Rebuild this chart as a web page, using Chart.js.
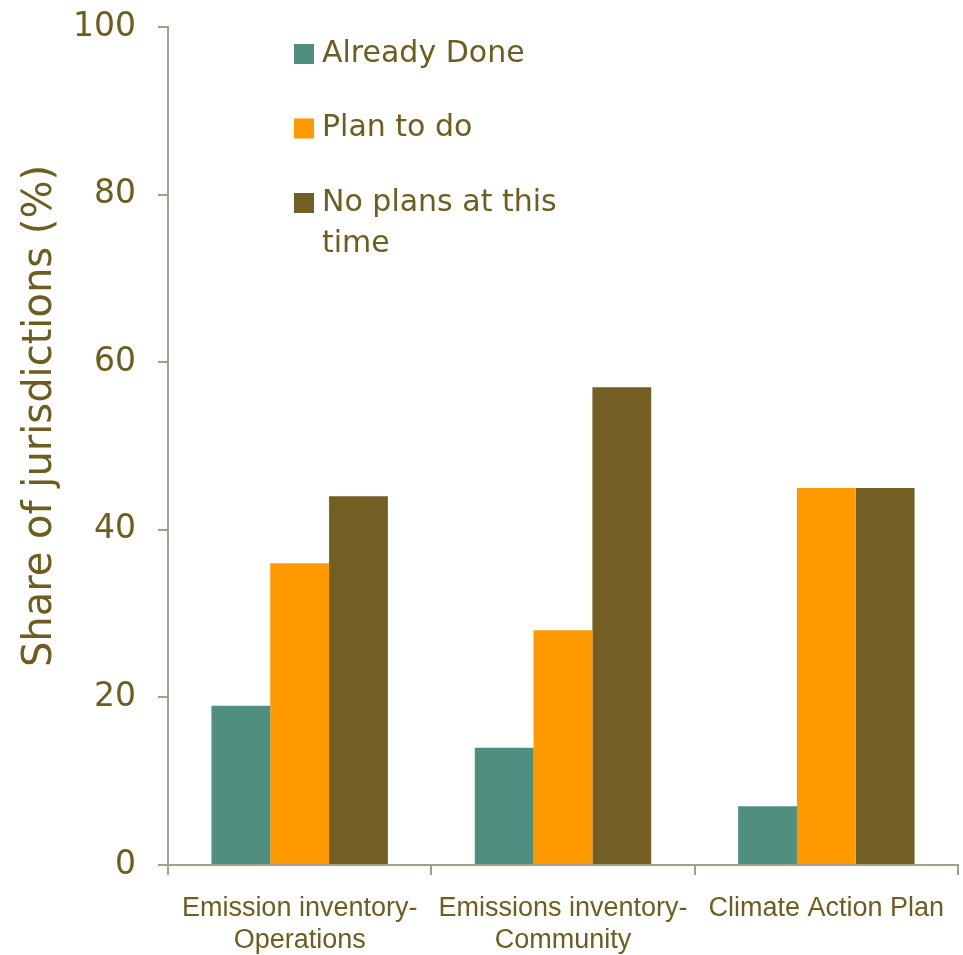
<!DOCTYPE html>
<html>
<head>
<meta charset="utf-8">
<script src="https://cdn.jsdelivr.net/npm/chart.js@4"></script>
<style>
  html, body { margin: 0; padding: 0; background: #fff; }
  #wrap { width: 963px; height: 955px; }
</style>
</head>
<body>
<div id="wrap"><canvas id="myChart" width="963" height="955"></canvas></div>
<script>
// categories and values
const categories = [
    ['Emission inventory-', 'Operations'],
    ['Emissions inventory-', 'Community'],
    'Climate Action Plan'
];
const alreadyDone = [19, 14, 7];
const planToDo = [36, 28, 45];
const noPlans = [44, 57, 45];
const legendLabels = ['Already Done', 'Plan to do', ['No plans at this', 'time']];
const yTitle = 'Share of jurisdictions (%)';

const textColor = '#6f5d1f';
const axisColor = '#a59e8f';

// legend inside the plot area (top left) + y title sitting a bit above centre
const innerLegend = {
    id: 'innerLegend',
    afterDraw(chart) {
        const ctx = chart.ctx;
        const area = chart.chartArea;
        const x0 = area.left + 126;
        const y0 = area.top + 27;
        ctx.save();
        ctx.font = '30px "DejaVu Sans"';
        ctx.textBaseline = 'middle';
        ctx.textAlign = 'left';
        chart.data.datasets.forEach((ds, i) => {
            const y = y0 + i * 74.5;
            ctx.fillStyle = ds.backgroundColor;
            ctx.fillRect(x0, y - 10, 20, 20);
            ctx.fillStyle = textColor;
            const lines = [].concat(legendLabels[i]);
            lines.forEach((line, j) => {
                ctx.fillText(line, x0 + 28, y + j * 41);
            });
        });

        // axis title
        ctx.translate(41, area.top + 389);
        ctx.rotate(-Math.PI / 2);
        ctx.textAlign = 'center';
        ctx.font = '40px "DejaVu Sans"';
        ctx.fillText(yTitle, 0, 0);
        ctx.restore();
    }
};

const ctx = document.getElementById('myChart').getContext('2d');
const myChart = new Chart(ctx, {
    type: 'bar',
    data: {
        labels: categories,
        datasets: [
            { label: 'Already Done', data: alreadyDone, backgroundColor: '#4f8f7f' },
            { label: 'Plan to do', data: planToDo, backgroundColor: '#ff9900' },
            { label: 'No plans at this time', data: noPlans, backgroundColor: '#735f24' }
        ]
    },
    options: {
        responsive: false,
        animation: false,
        layout: { padding: { top: 27, right: 5, left: 0, bottom: 0 } },
        datasets: {
            bar: { barPercentage: 1, categoryPercentage: 0.67 }
        },
        plugins: {
            legend: { display: false },
            tooltip: { enabled: false }
        },
        scales: {
            x: {
                grid: {
                    display: true,
                    drawOnChartArea: false,
                    offset: true,
                    color: axisColor,
                    lineWidth: 2,
                    tickLength: 10
                },
                border: { color: axisColor, width: 2 },
                ticks: {
                    color: textColor,
                    font: { family: '"Liberation Sans"', size: 27, lineHeight: 1.2 },
                    padding: 17,
                    maxRotation: 0,
                    autoSkip: false
                },
                afterFit(scale) { scale.height = 90; }
            },
            y: {
                min: 0,
                max: 100,
                ticks: {
                    stepSize: 20,
                    color: textColor,
                    font: { family: '"DejaVu Sans"', size: 33 },
                    padding: 22
                },
                grid: {
                    display: true,
                    drawOnChartArea: false,
                    color: axisColor,
                    lineWidth: 2,
                    tickLength: 10
                },
                border: { color: axisColor, width: 2 },
                afterFit(scale) {
                    scale.width = 168;
                    scale.paddingTop = 0;
                    scale.paddingBottom = 0;
                }
            }
        }
    },
    plugins: [innerLegend]
});
</script>
</body>
</html>
